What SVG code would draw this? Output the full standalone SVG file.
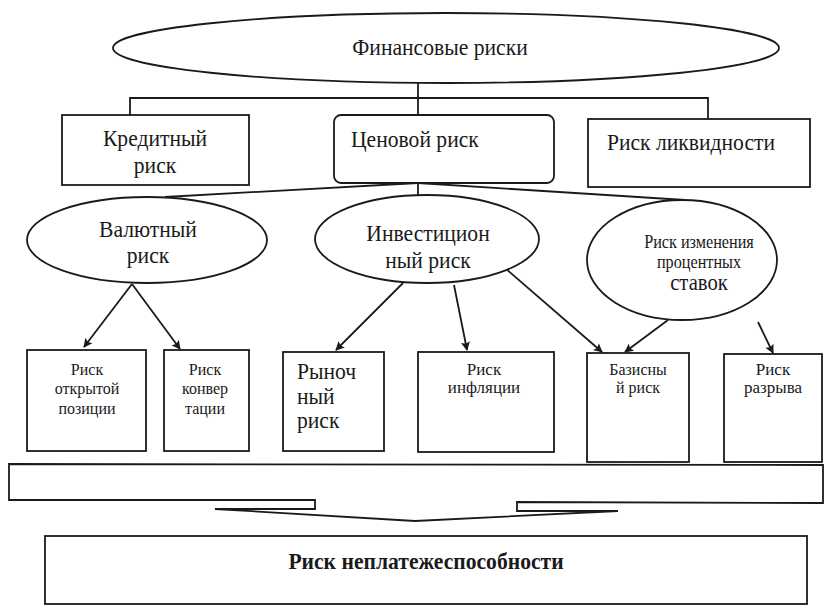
<svg xmlns="http://www.w3.org/2000/svg" width="824" height="611" viewBox="0 0 824 611">
<style>
.s{fill:#fff;stroke:#1a1a1a;stroke-width:1.8}
.t{font-family:"Liberation Serif","DejaVu Serif",serif;fill:#1a1a1a;text-anchor:middle}
.st{text-anchor:start}
.l{fill:none;stroke:#1a1a1a;stroke-width:1.8}
.a{fill:none;stroke:#1a1a1a;stroke-width:1.8;marker-end:url(#ah)}
</style>
<defs>
<marker id="ah" viewBox="0 0 10 10" refX="9" refY="5" markerWidth="12" markerHeight="9" markerUnits="userSpaceOnUse" orient="auto">
<path d="M0,0 L10,5 L0,10 L2,5 Z" fill="#1a1a1a"/>
</marker>
</defs>
<rect width="824" height="611" fill="#fff"/>
<g id="connectors">
<line class="l" x1="418" y1="83" x2="418" y2="98"/>
<polyline class="l" points="130,115 130,98 708,98 708,119"/>
<line class="l" x1="418" y1="98" x2="418" y2="115"/>
<line class="l" x1="418" y1="183" x2="418" y2="195"/>
<line class="l" x1="418" y1="183" x2="165" y2="197"/>
<line class="l" x1="418" y1="183" x2="685" y2="200"/>
<line class="a" x1="132" y1="284" x2="84" y2="347"/>
<line class="a" x1="132" y1="284" x2="180" y2="349"/>
<line class="a" x1="403" y1="283" x2="336" y2="350"/>
<line class="a" x1="454" y1="285" x2="467" y2="350"/>
<line class="a" x1="505" y1="268" x2="602" y2="352"/>
<line class="a" x1="668" y1="320" x2="625" y2="352"/>
<line class="a" x1="758" y1="322" x2="773" y2="353"/>
</g>
<g id="n-fin">
<ellipse class="s" cx="446" cy="48" rx="333" ry="35"/>
<text class="t" x="440" y="55" font-size="24" transform="matrix(0.9 0 0 1 44 0)">Финансовые риски</text>
</g>
<g id="n-kred">
<rect class="s" x="62" y="115" width="187" height="70"/>
<text class="t" x="155" y="146" font-size="24" transform="matrix(0.9 0 0 1 15.5 0)">Кредитный</text>
<text class="t" x="155" y="173" font-size="24" transform="matrix(0.9 0 0 1 15.5 0)">риск</text>
</g>
<g id="n-cen">
<rect class="s" x="334" y="115" width="220" height="68" rx="7"/>
<text class="t st" x="351" y="147" font-size="24" transform="matrix(0.9 0 0 1 35.1 0)">Ценовой риск</text>
</g>
<g id="n-likv">
<rect class="s" x="588" y="119" width="222" height="68"/>
<text class="t" x="691" y="150" font-size="24" transform="matrix(0.9 0 0 1 69.1 0)">Риск ликвидности</text>
</g>
<g id="n-val">
<ellipse class="s" cx="147" cy="240" rx="120" ry="43"/>
<text class="t" x="148" y="237" font-size="24" transform="matrix(0.9 0 0 1 14.8 0)">Валютный</text>
<text class="t" x="148" y="263" font-size="24" transform="matrix(0.9 0 0 1 14.8 0)">риск</text>
</g>
<g id="n-inv">
<ellipse class="s" cx="427" cy="239" rx="112" ry="44"/>
<text class="t" x="428" y="241" font-size="24" transform="matrix(0.9 0 0 1 42.8 0)">Инвестицион</text>
<text class="t" x="428" y="268" font-size="24" transform="matrix(0.9 0 0 1 42.8 0)">ный риск</text>
</g>
<g id="n-proc">
<ellipse class="s" cx="682" cy="260" rx="95" ry="60"/>
<text class="t" x="699" y="248" font-size="18" transform="matrix(0.9 0 0 1 69.9 0)">Риск изменения</text>
<text class="t" x="699" y="268" font-size="18" transform="matrix(0.9 0 0 1 69.9 0)">процентных</text>
<text class="t" x="699" y="290" font-size="23" transform="matrix(0.9 0 0 1 69.9 0)">ставок</text>
</g>
<g id="n-otkr">
<rect class="s" x="27" y="350" width="119" height="101"/>
<text class="t" x="87" y="375" font-size="16">Риск</text>
<text class="t" x="87" y="394" font-size="16">открытой</text>
<text class="t" x="87" y="414" font-size="16">позиции</text>
</g>
<g id="n-konv">
<rect class="s" x="164" y="350" width="85" height="101"/>
<text class="t" x="205" y="375" font-size="16">Риск</text>
<text class="t" x="205" y="394" font-size="16">конвер</text>
<text class="t" x="205" y="414" font-size="16">тации</text>
</g>
<g id="n-ryn">
<rect class="s" x="283" y="352" width="101" height="99"/>
<text class="t st" x="297" y="379" font-size="24" transform="matrix(0.9 0 0 1 29.7 0)">Рыноч</text>
<text class="t st" x="297" y="404" font-size="24" transform="matrix(0.9 0 0 1 29.7 0)">ный</text>
<text class="t st" x="297" y="428" font-size="24" transform="matrix(0.9 0 0 1 29.7 0)">риск</text>
</g>
<g id="n-infl">
<rect class="s" x="418" y="352" width="136" height="100"/>
<text class="t" x="484" y="375" font-size="17">Риск</text>
<text class="t" x="484" y="393" font-size="17">инфляции</text>
</g>
<g id="n-baz">
<rect class="s" x="587" y="353" width="102" height="109"/>
<text class="t" x="638" y="375" font-size="16">Базисны</text>
<text class="t" x="638" y="393" font-size="16">й риск</text>
</g>
<g id="n-razr">
<rect class="s" x="724" y="354" width="98" height="108"/>
<text class="t" x="773" y="375" font-size="17">Риск</text>
<text class="t" x="773" y="393" font-size="17">разрыва</text>
</g>
<g id="n-banner">
<path class="s" d="M9,464 L823,465 L823,503 L517,502 L517,511 L618,511 L415,521 L215,509 L315,509 L315,500 L9,500 Z"/>
</g>
<g id="n-neplat">
<rect class="s" x="45" y="536" width="762" height="68"/>
<text class="t" x="426" y="569" font-size="24" font-weight="bold" transform="matrix(0.9 0 0 1 42.6 0)">Риск неплатежеспособности</text>
</g>
</svg>
